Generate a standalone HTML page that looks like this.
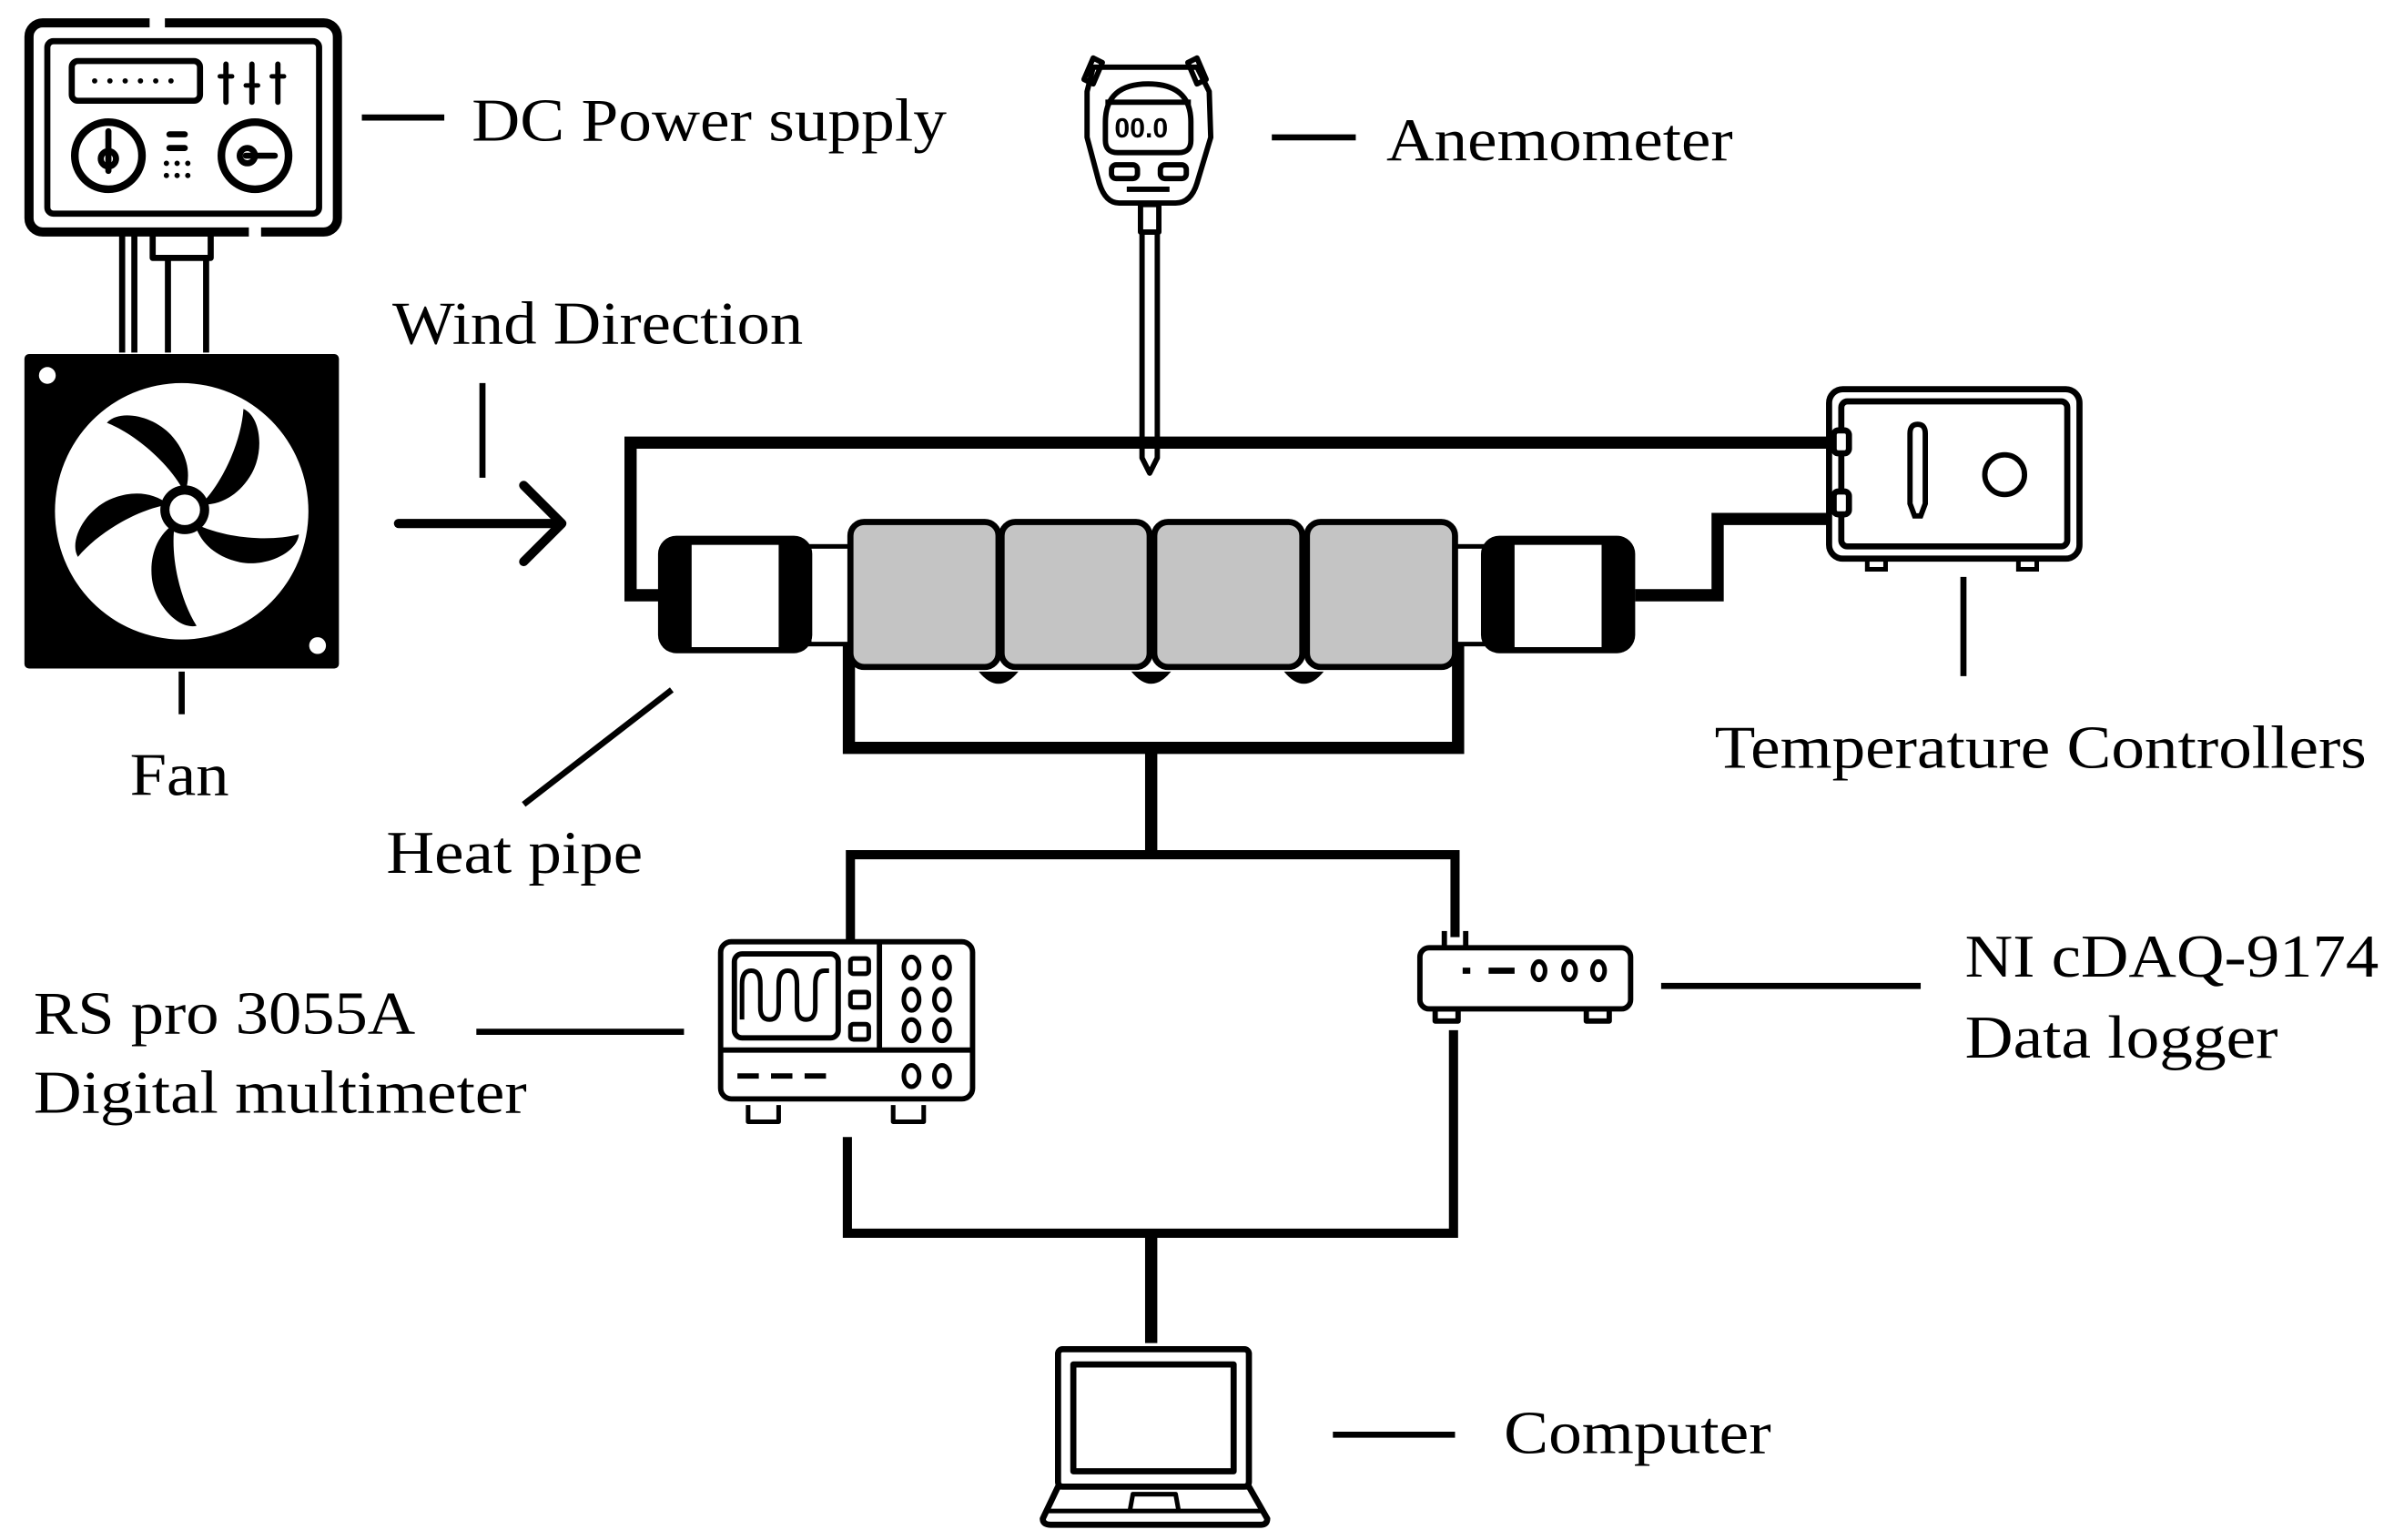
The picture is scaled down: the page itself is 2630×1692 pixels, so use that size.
<!DOCTYPE html>
<html><head><meta charset="utf-8"><style>
html,body{margin:0;padding:0;background:#fff;}
svg{display:block;}
text{font-family:"Liberation Serif",serif;font-size:40px;fill:#000;}
</style></head><body>
<svg width="2630" height="1692" viewBox="0 0 1568 1009" preserveAspectRatio="none" xmlns="http://www.w3.org/2000/svg">
<rect width="1568" height="1009" fill="#fff"/>
<g fill="none" stroke="#000" stroke-linecap="round" stroke-linejoin="round">
<!-- DC power supply -->
<rect x="19" y="15" width="202" height="137" rx="9" stroke-width="6"/>
<line x1="98" y1="15" x2="108" y2="15" stroke="#fff" stroke-width="8" stroke-linecap="butt"/>
<line x1="163" y1="152" x2="171" y2="152" stroke="#fff" stroke-width="8" stroke-linecap="butt"/>
<rect x="31" y="27" width="178" height="113" rx="4" stroke-width="4"/>
<rect x="47" y="40" width="84" height="26" rx="4" stroke-width="4"/>
<g stroke-width="3.5"><line x1="62" y1="53" x2="62" y2="53"/><line x1="72" y1="53" x2="72" y2="53"/><line x1="82" y1="53" x2="82" y2="53"/><line x1="92" y1="53" x2="92" y2="53"/><line x1="102" y1="53" x2="102" y2="53"/><line x1="112" y1="53" x2="112" y2="53"/></g>
<g stroke-width="3.5"><line x1="148" y1="42" x2="148" y2="67"/><line x1="165" y1="42" x2="165" y2="67"/><line x1="182" y1="42" x2="182" y2="67"/></g>
<g stroke-width="3"><line x1="144" y1="50" x2="152" y2="50"/><line x1="161" y1="56" x2="169" y2="56"/><line x1="178" y1="50" x2="186" y2="50"/></g>
<circle cx="71" cy="102" r="22" stroke-width="5"/>
<circle cx="167" cy="102" r="22" stroke-width="5"/>
<line x1="71" y1="86" x2="71" y2="112" stroke-width="4"/>
<circle cx="71" cy="104" r="5" stroke-width="4"/>
<line x1="161" y1="102" x2="180" y2="102" stroke-width="4"/>
<circle cx="162" cy="102" r="5" stroke-width="4"/>
<g stroke-width="4"><line x1="111" y1="88" x2="121" y2="88"/><line x1="111" y1="97" x2="121" y2="97"/></g>
<g stroke-width="3.5"><line x1="109" y1="107" x2="109" y2="107"/><line x1="116" y1="107" x2="116" y2="107"/><line x1="123" y1="107" x2="123" y2="107"/><line x1="109" y1="115" x2="109" y2="115"/><line x1="116" y1="115" x2="116" y2="115"/><line x1="123" y1="115" x2="123" y2="115"/></g>
<g stroke-width="4" stroke-linecap="butt"><line x1="80" y1="153" x2="80" y2="231"/><line x1="88" y1="153" x2="88" y2="231"/><rect x="100" y="153" width="38" height="16"/><line x1="110" y1="169" x2="110" y2="231"/><line x1="135" y1="169" x2="135" y2="231"/></g>
</g>
<!-- Fan -->
<rect x="16" y="232" width="206" height="206" rx="3" fill="#000"/>
<ellipse cx="119" cy="335" rx="83" ry="84" fill="#fff"/>
<g fill="#000">
<path id="bl" d="M121 323 C112 305 90 285 70 277 C78 268 100 272 112 285 C122 296 126 310 121 323Z"/>
<use href="#bl" transform="rotate(72 121 334)"/>
<use href="#bl" transform="rotate(144 121 334)"/>
<use href="#bl" transform="rotate(216 121 334)"/>
<use href="#bl" transform="rotate(288 121 334)"/>
<circle cx="121" cy="334" r="16"/>
</g>
<circle cx="121" cy="334" r="10" fill="#fff"/>
<circle cx="31" cy="246" r="5.5" fill="#fff"/>
<circle cx="208" cy="423" r="5.5" fill="#fff"/>
<g stroke="#000" fill="none">
<line x1="119" y1="440" x2="119" y2="468" stroke-width="4"/>
<line x1="316" y1="251" x2="316" y2="313" stroke-width="4"/>
<line x1="261" y1="343" x2="366" y2="343" stroke-width="6" stroke-linecap="round"/>
<polyline points="343,318 368,343 343,368" stroke-width="6" stroke-linecap="round" stroke-linejoin="round"/>
<polyline points="432,390 413,390 413,290 1198,290" stroke-width="8"/>
<polyline points="1071,390 1125,390 1125,340 1198,340" stroke-width="8"/>
<polyline points="556,420 556,490 955,490 955,420" stroke-width="8"/>
<line x1="754" y1="490" x2="754" y2="560" stroke-width="8"/>
<polyline points="557,618 557,560 953,560 953,614" stroke-width="6"/>
<polyline points="555,745 555,808 952,808 952,675" stroke-width="6"/>
<line x1="754" y1="808" x2="754" y2="880" stroke-width="8"/>
</g>
<!-- heat pipe -->
<rect x="530" y="358" width="28" height="64" fill="#fff" stroke="#000" stroke-width="3"/>
<rect x="953" y="358" width="20" height="64" fill="#fff" stroke="#000" stroke-width="3"/>
<rect x="431" y="351" width="101" height="77" rx="12" fill="#000"/>
<rect x="453" y="357" width="57" height="67" fill="#fff"/>
<rect x="970" y="351" width="101" height="77" rx="12" fill="#000"/>
<rect x="992" y="357" width="57" height="67" fill="#fff"/>
<g fill="#c4c4c4" stroke="#000" stroke-width="4">
<rect x="557" y="342" width="97" height="95" rx="9"/>
<rect x="656" y="342" width="97" height="95" rx="9"/>
<rect x="756" y="342" width="97" height="95" rx="9"/>
<rect x="856" y="342" width="97" height="95" rx="9"/>
</g>
<g fill="#000"><path d="M641 440 Q654 456 667 440Z"/><path d="M741 440 Q754 456 767 440Z"/><path d="M841 440 Q854 456 867 440Z"/></g>
<!-- anemometer -->
<g fill="none" stroke="#000" stroke-width="3.5" stroke-linejoin="round">
<path d="M716 44 L784 44 L792 60 L793 90 L784 120 Q780 133 770 133 L733 133 Q724 133 720 120 L712 90 L712 60Z"/>
<path d="M710 52 L716 38 L722 41 L716 55Z"/><path d="M790 52 L784 38 L778 41 L784 55Z"/>
<path d="M724 80 Q724 55 752 55 Q780 55 780 80 L780 92 Q780 100 772 100 L732 100 Q724 100 724 92Z"/>
<line x1="724" y1="67" x2="780" y2="67"/>
<rect x="728" y="108" width="17" height="9" rx="3"/><rect x="760" y="108" width="17" height="9" rx="3"/>
<line x1="738" y1="124" x2="766" y2="124"/>
<rect x="747" y="134" width="12" height="18"/>
<path d="M748 152 L748 300 L753 310 L758 300 L758 152Z"/>
</g>
<text x="730" y="90" style="font-family:'Liberation Sans',sans-serif;font-size:18px;font-weight:bold">00.0</text>
<line x1="833" y1="90" x2="888" y2="90" stroke="#000" stroke-width="4"/>
<!-- temperature controller -->
<g fill="none" stroke="#000" stroke-width="4">
<rect x="1198" y="255" width="164" height="111" rx="9"/>
<rect x="1206" y="263" width="148" height="95" rx="4"/>
<rect x="1201" y="282" width="10" height="15" rx="3" fill="#fff"/><rect x="1201" y="322" width="10" height="15" rx="3" fill="#fff"/>
<path d="M1251 284 Q1251 278 1256 278 Q1261 278 1261 284 L1261 330 L1258 338 L1254 338 L1251 330Z" stroke-width="3.5"/>
<circle cx="1313" cy="311" r="13" stroke-width="3.5"/>
<rect x="1223" y="366" width="12" height="7" stroke-width="3"/><rect x="1322" y="366" width="12" height="7" stroke-width="3"/>
<line x1="1286" y1="378" x2="1286" y2="443"/>
<line x1="440" y1="452" x2="343" y2="527"/>
</g>
<!-- multimeter -->
<g fill="none" stroke="#000" stroke-width="3.5" stroke-linejoin="round">
<rect x="472" y="617" width="165" height="103" rx="7"/>
<line x1="472" y1="688" x2="637" y2="688"/>
<line x1="576" y1="617" x2="576" y2="688"/>
<rect x="481" y="625" width="68" height="55" rx="5"/>
<path d="M486 668 L486 645 Q486 636 492 636 Q498 636 498 645 L498 660 Q498 668 504 668 Q510 668 510 660 L510 645 Q510 636 516 636 Q522 636 522 645 L522 660 Q522 668 528 668 Q534 668 534 660 L534 645 Q534 636 540 636 L543 636" stroke-width="3"/>
<rect x="557" y="628" width="12" height="10" rx="2" stroke-width="3"/><rect x="557" y="650" width="12" height="10" rx="2" stroke-width="3"/><rect x="557" y="671" width="12" height="10" rx="2" stroke-width="3"/>
<g stroke-width="3"><ellipse cx="597" cy="634" rx="5" ry="7"/><ellipse cx="617" cy="634" rx="5" ry="7"/><ellipse cx="597" cy="655" rx="5" ry="7"/><ellipse cx="617" cy="655" rx="5" ry="7"/><ellipse cx="597" cy="675" rx="5" ry="7"/><ellipse cx="617" cy="675" rx="5" ry="7"/><ellipse cx="597" cy="705" rx="5" ry="7"/><ellipse cx="617" cy="705" rx="5" ry="7"/></g>
<g stroke-width="3.5"><line x1="483" y1="705" x2="497" y2="705"/><line x1="505" y1="705" x2="519" y2="705"/><line x1="527" y1="705" x2="541" y2="705"/></g>
<path d="M490 724 L490 735 L510 735 L510 724" stroke-width="3"/><path d="M585 724 L585 735 L605 735 L605 724" stroke-width="3"/>
</g>
<line x1="312" y1="676" x2="448" y2="676" stroke="#000" stroke-width="4"/>
<!-- data logger -->
<g fill="none" stroke="#000" stroke-width="3.5" stroke-linejoin="round">
<rect x="930" y="621" width="138" height="40" rx="6"/>
<line x1="946" y1="621" x2="946" y2="610"/><line x1="960" y1="621" x2="960" y2="610"/>
<rect x="940" y="661" width="15" height="8"/><rect x="1039" y="661" width="15" height="8"/>
<line x1="958" y1="636" x2="963" y2="636" stroke-width="4"/><line x1="975" y1="636" x2="992" y2="636" stroke-width="4"/>
<ellipse cx="1008" cy="636" rx="4" ry="6" stroke-width="3"/><ellipse cx="1028" cy="636" rx="4" ry="6" stroke-width="3"/><ellipse cx="1047" cy="636" rx="4" ry="6" stroke-width="3"/>
</g>
<line x1="1088" y1="646" x2="1258" y2="646" stroke="#000" stroke-width="4"/>
<!-- computer -->
<g fill="none" stroke="#000" stroke-width="4" stroke-linejoin="round">
<rect x="693" y="884" width="125" height="90" rx="3"/>
<rect x="703" y="894" width="105" height="70"/>
<path d="M693 974 L683 995 Q683 999 688 999 L826 999 Q830 999 830 995 L818 974Z"/>
<line x1="686" y1="990" x2="827" y2="990" stroke-width="3"/>
<path d="M740 990 L742 979 L770 979 L772 990" stroke-width="3"/>
</g>
<line x1="873" y1="940" x2="953" y2="940" stroke="#000" stroke-width="4"/>
<line x1="237" y1="77" x2="291" y2="77" stroke="#000" stroke-width="4"/>
<!-- labels -->
<text x="309" y="92" textLength="311" lengthAdjust="spacingAndGlyphs">DC Power supply</text>
<text x="257" y="225" textLength="269" lengthAdjust="spacingAndGlyphs">Wind Direction</text>
<text x="908" y="105" textLength="227" lengthAdjust="spacingAndGlyphs">Anemometer</text>
<text x="85" y="521" textLength="65" lengthAdjust="spacingAndGlyphs">Fan</text>
<text x="1123" y="503" textLength="427" lengthAdjust="spacingAndGlyphs">Temperature Controllers</text>
<text x="253" y="572" textLength="168" lengthAdjust="spacingAndGlyphs">Heat pipe</text>
<text x="22" y="677" textLength="250" lengthAdjust="spacingAndGlyphs">RS pro 3055A</text>
<text x="22" y="729" textLength="323" lengthAdjust="spacingAndGlyphs">Digital multimeter</text>
<text x="1287" y="640" textLength="271" lengthAdjust="spacingAndGlyphs">NI cDAQ-9174</text>
<text x="1287" y="693" textLength="205" lengthAdjust="spacingAndGlyphs">Data logger</text>
<text x="985" y="952" textLength="175" lengthAdjust="spacingAndGlyphs">Computer</text>
</svg>
</body></html>
